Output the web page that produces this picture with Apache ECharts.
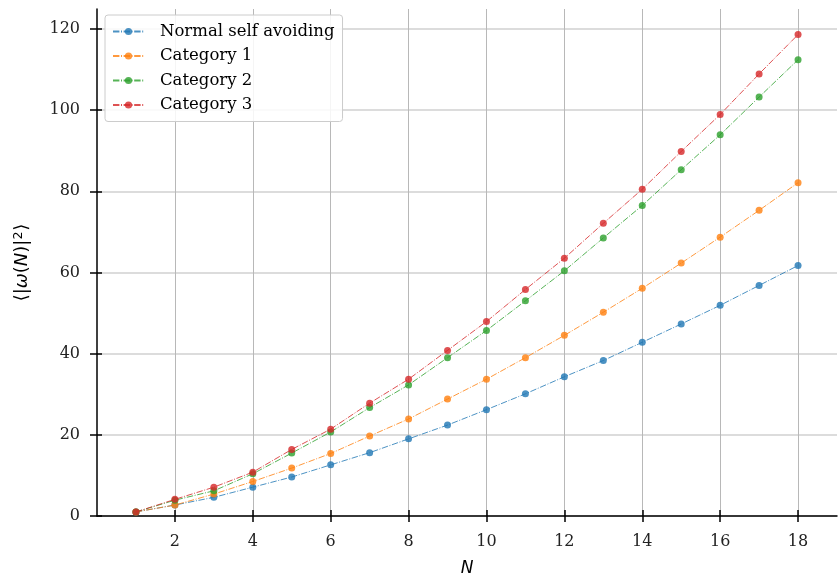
<!DOCTYPE html>
<html>
<head>
<meta charset="utf-8">
<script src="https://cdn.jsdelivr.net/npm/echarts@6/dist/echarts.min.js"></script>
<style>
html,body{margin:0;padding:0;background:#fff;}
#chart{width:840px;height:577px;}
</style>
</head>
<body>
<div id="chart"></div>
<script>
const N = [1,2,3,4,5,6,7,8,9,10,11,12,13,14,15,16,17,18];
const normalSelfAvoiding = [1, 2.7, 4.6, 7.1, 9.6, 12.6, 15.6, 19.0, 22.4, 26.2, 30.1, 34.3, 38.3, 42.8, 47.3, 51.9, 56.8, 61.7];
const category1 = [1, 2.7, 5.4, 8.5, 11.8, 15.4, 19.7, 23.9, 28.8, 33.7, 39.0, 44.5, 50.2, 56.1, 62.3, 68.7, 75.3, 82.1];
const category2 = [1, 3.9, 6.2, 10.4, 15.5, 20.7, 26.7, 32.3, 39.0, 45.7, 53.0, 60.4, 68.5, 76.5, 85.3, 93.9, 103.2, 112.4];
const category3 = [1, 4.1, 7.1, 10.8, 16.4, 21.4, 27.8, 33.7, 40.8, 47.9, 55.8, 63.5, 72.1, 80.5, 89.8, 98.9, 108.9, 118.6];
const seriesNames = ['Normal self avoiding', 'Category 1', 'Category 2', 'Category 3'];
const xTicks = [2,4,6,8,10,12,14,16,18];
const yTicks = [0,20,40,60,80,100,120];

const colors = ['#1f77b4', '#ff7f0e', '#2ca02c', '#d62728'];
const allValues = [normalSelfAvoiding, category1, category2, category3];

const serif = '"DejaVu Serif", serif';
const sans = '"DejaVu Sans", sans-serif';

function mkSeries(i) {
  return {
    name: seriesNames[i],
    type: 'line',
    xAxisIndex: 0,
    yAxisIndex: 0,
    data: N.map((n, k) => [n, allValues[i][k]]),
    symbol: 'circle',
    symbolSize: 7,
    itemStyle: { color: colors[i], opacity: 0.8 },
    lineStyle: { color: colors[i], width: 1, opacity: 0.8, type: [6.4, 1.6, 1, 1.6] },
    emphasis: { disabled: true },
    animation: false,
    z: 3 + i
  };
}

const chart = echarts.init(document.getElementById('chart'), null, { renderer: 'canvas' });
chart.setOption({
  backgroundColor: '#fff',
  animation: false,
  grid: { left: 97, right: 3, top: 9, bottom: 61, containLabel: false, outerBoundsMode: 'none' },
  legend: {
    show: true,
    data: seriesNames,
    orient: 'vertical',
    left: 105,
    top: 15,
    padding: [8, 8, 8, 7],
    itemWidth: 31,
    itemHeight: 9,
    itemGap: 7.5,
    backgroundColor: 'rgba(255,255,255,0.85)',
    borderColor: '#cccccc',
    borderWidth: 1,
    borderRadius: 3,
    textStyle: { fontFamily: serif, fontSize: 16.5, color: '#000', padding: [0, 0, 0, 11] },
    z: 10
  },
  xAxis: [
    {
      type: 'value', position: 'bottom', min: 0, max: 19,
      name: 'N', nameLocation: 'middle', nameGap: 44,
      nameTextStyle: { fontFamily: sans, fontStyle: 'italic', fontSize: 17, color: '#000' },
      axisLine: { show: true, onZero: false, lineStyle: { color: '#000', width: 1.5 } },
      axisTick: { show: true, length: 6, inside: false, customValues: xTicks, lineStyle: { color: '#000', width: 1.5 } },
      axisLabel: { show: true, customValues: xTicks, margin: 18, fontFamily: serif, fontSize: 16, color: '#222' },
      splitLine: { show: true, lineStyle: { color: '#b8b8b8', width: 1 } }
    },
    {
      type: 'value', position: 'top', min: 0, max: 19,
      axisLine: { show: false },
      axisTick: { show: true, length: 6, inside: false, customValues: xTicks, lineStyle: { color: '#000', width: 1.5 } },
      axisLabel: { show: false },
      splitLine: { show: false }
    }
  ],
  yAxis: [
    {
      type: 'value', position: 'left', min: 0, max: 124.9,
      name: '{p|⟨|}{i|ω}{p|(}{i|N}{p|)|}{s|2}{p|⟩}',
      nameLocation: 'middle', nameGap: 64, nameRotate: 90,
      nameTextStyle: {
        fontFamily: sans, fontSize: 18, color: '#000',
        rich: {
          p: { fontFamily: sans, fontSize: 18, color: '#000' },
          i: { fontFamily: sans, fontSize: 18, fontStyle: 'italic', color: '#000' },
          s: { fontFamily: sans, fontSize: 12.5, color: '#000', verticalAlign: 'top', padding: [0, 1, 8, 0] }
        }
      },
      axisLine: { show: true, onZero: false, lineStyle: { color: '#000', width: 1.5 } },
      axisTick: { show: true, length: 7, inside: false, customValues: yTicks, lineStyle: { color: '#000', width: 1.5 } },
      axisLabel: { show: true, customValues: yTicks, margin: 17, fontFamily: serif, fontSize: 16, color: '#222' },
      splitLine: { show: true, lineStyle: { color: '#d0d0d0', width: 1.5 } }
    },
    {
      type: 'value', position: 'right', min: 0, max: 124.9,
      axisLine: { show: false },
      axisTick: { show: true, length: 5, inside: false, customValues: yTicks, lineStyle: { color: '#000', width: 1.5 } },
      axisLabel: { show: false },
      splitLine: { show: false }
    }
  ],
  series: [0, 1, 2, 3].map(mkSeries)
});
</script>
</body>
</html>
